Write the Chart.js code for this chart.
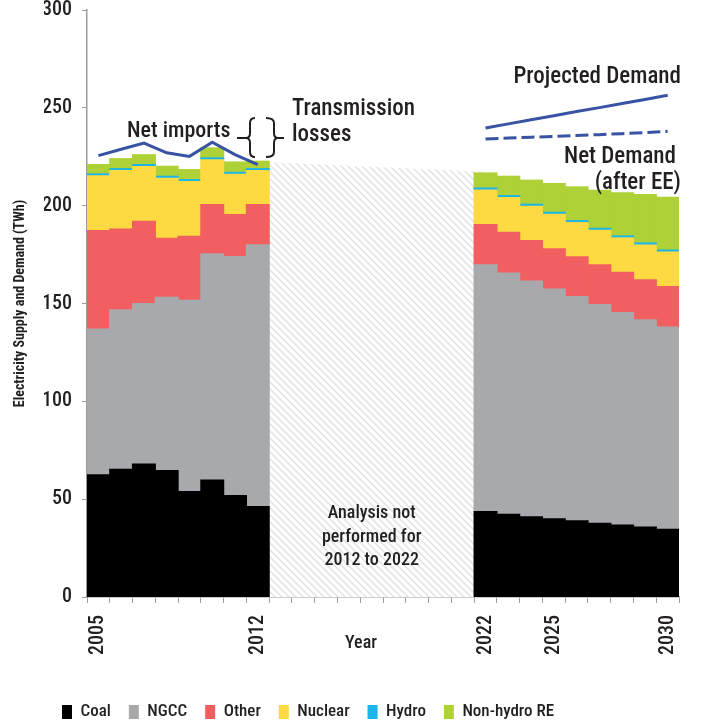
<!DOCTYPE html>
<html>
<head>
<meta charset="utf-8">
<script src="https://cdn.jsdelivr.net/npm/chart.js@4.4.1/dist/chart.umd.min.js"></script>
<style>
html,body{margin:0;padding:0;background:#fff;}
#wrap{width:704px;height:723px;position:relative;}
</style>
</head>
<body>
<div id="wrap"><canvas id="c" width="704" height="723"></canvas></div>
<script>
// ---------------- data ----------------
const years = [2005,2006,2007,2008,2009,2010,2011,2012,2013,2014,2015,2016,2017,2018,2019,2020,2021,2022,2023,2024,2025,2026,2027,2028,2029,2030];
const shownYears = [2005, 2012, 2022, 2025, 2030];
const yTickValues = [0, 50, 100, 150, 200, 250, 300];

const coalHist    = [62.4, 65.3, 67.9, 64.6, 53.9, 59.8, 51.8, 46.2];
const coalProj    = [43.6, 42.3, 40.9, 39.9, 38.9, 37.7, 36.7, 35.7, 34.6];
const ngccHist    = [74.5, 81.5, 82.0, 88.5, 97.7, 115.6, 122.2, 133.8];
const ngccProj    = [126.2, 123.3, 120.6, 117.5, 114.6, 111.7, 108.7, 106.0, 103.4];
const otherHist   = [50.3, 41.2, 42.1, 30.2, 32.7, 25.1, 21.4, 20.5];
const otherProj   = [20.5, 20.7, 20.6, 20.5, 20.3, 20.4, 20.5, 20.4, 20.7];
const nuclearHist = [28.0, 29.9, 28.0, 30.7, 28.0, 22.9, 20.6, 17.4];
const nuclearProj = [17.7, 17.8, 17.6, 17.7, 17.5, 17.6, 17.6, 17.8, 17.6];
const hydroHist   = [1.0, 1.0, 1.0, 1.0, 1.0, 1.0, 1.0, 1.0];
const hydroProj   = [1.0, 1.0, 1.0, 1.0, 1.0, 1.0, 1.0, 1.0, 1.0];
const reHist      = [4.8, 5.1, 5.0, 5.1, 5.1, 5.1, 5.3, 3.8];
const reProj      = [7.7, 9.9, 12.3, 14.7, 17.3, 19.4, 22.0, 24.7, 27.0];

const demandHist    = [225.6, 228.8, 232.0, 227.0, 225.2, 232.4, 226.1, 221.0];
const demandProj    = [239.7, 241.8, 243.9, 246.0, 248.1, 250.1, 252.2, 254.3, 256.4];
const netDemandProj = [234.1, 234.6, 235.0, 235.4, 235.9, 236.3, 236.8, 237.3, 238.0];
const notAnalysedEnds = [222.4, 217.3]; // totals at 2012 and 2022 bounding the hatched gap

// ---------------- helpers ----------------
const gapLen = years.length - coalHist.length - coalProj.length;
const gapNulls = new Array(gapLen).fill(null);
const projNulls = new Array(coalProj.length).fill(null);
const histNulls = new Array(coalHist.length).fill(null);
const full = (h, p) => [...h, ...gapNulls, ...p];
const histOnly = (h) => [...h, ...gapNulls, ...projNulls];
const projOnly = (p) => [...histNulls, ...gapNulls, ...p];
const hatchData = years.map(y => y === 2012 ? notAnalysedEnds[0] : (y === 2022 ? notAnalysedEnds[1] : null));

// pick a condensed font if one is installed
function hasFont(name) {
  const c = document.createElement('canvas').getContext('2d');
  const s = 'abcdefghijklmnopqrstuvwxyz ABCDEFGHIJKLM 0123456789';
  c.font = '40px monospace';
  const a = c.measureText(s).width;
  c.font = "40px '" + name + "', monospace";
  const b = c.measureText(s).width;
  return Math.abs(a - b) > 0.5;
}
const fontCandidates = ['Roboto Condensed', 'Liberation Sans Narrow', 'Noto Sans Condensed', 'DejaVu Sans Condensed', 'Open Sans Condensed', 'Noto Sans SemiCondensed', 'Roboto'];
const chosen = fontCandidates.find(hasFont) || 'Roboto';
const FONT = "'" + chosen + "', Roboto, sans-serif";
const W = '500';
const TXT = '#231f20';
const AX = '#9b9b9b';
const BLUE = '#3953a4';
const LEG_PAD = 18;

// hatch pattern
function makePattern() {
  const p = document.createElement('canvas');
  p.width = 7; p.height = 7;
  const g = p.getContext('2d');
  g.fillStyle = '#ffffff';
  g.fillRect(0, 0, 7, 7);
  g.strokeStyle = '#e2e2e2';
  g.lineWidth = 1.5;
  g.beginPath();
  g.moveTo(-1, -1); g.lineTo(8, 8);
  g.moveTo(-1, 6); g.lineTo(1, 8);
  g.moveTo(6, -1); g.lineTo(8, 1);
  g.stroke();
  return g.createPattern(p, 'repeat');
}
const pattern = makePattern();

const barDs = (label, h, p, color) => ({
  type: 'bar', label, data: full(h, p), backgroundColor: color, borderWidth: 0, inflateAmount: 0.6,
  stack: 'gen', barPercentage: 1.0, categoryPercentage: 1.0, order: 5
});

const annotations = {
  id: 'annotations',
  afterDatasetsDraw(chart) {
    const ctx = chart.ctx;
    const xs = chart.scales.x;
    ctx.save();
    ctx.fillStyle = TXT;
    ctx.textBaseline = 'alphabetic';
    // gap note
    const cx = (xs.getPixelForValue(years.indexOf(2012)) + xs.getPixelForValue(years.indexOf(2022))) / 2;
    ctx.font = W + ' 18px ' + FONT;
    ctx.textAlign = 'center';
    ctx.fillText('Analysis not', cx, 518);
    ctx.fillText('performed for', cx, 542);
    ctx.fillText('2012 to 2022', cx, 565);
    // year title
    ctx.fillText('Year', 361, 648);
    // labels
    ctx.font = W + ' 22px ' + FONT;
    ctx.textAlign = 'left';
    ctx.fillText('Net imports', 127, 137);
    ctx.font = W + ' 23px ' + FONT;
    ctx.fillText('Transmission', 292, 115);
    ctx.fillText('losses', 292, 141);
    ctx.textAlign = 'right';
    ctx.fillText('Projected Demand', 681, 83);
    ctx.fillText('Net Demand', 676, 163);
    ctx.fillText('(after EE)', 681, 189);
    // braces
    ctx.strokeStyle = TXT;
    ctx.lineWidth = 2;
    ctx.beginPath();
    ctx.moveTo(255, 118); ctx.quadraticCurveTo(250, 118, 250, 123); ctx.lineTo(250, 133);
    ctx.quadraticCurveTo(250, 138, 246, 138); ctx.quadraticCurveTo(250, 138, 250, 143);
    ctx.lineTo(250, 152); ctx.quadraticCurveTo(250, 157, 255, 157);
    ctx.moveTo(237, 138); ctx.lineTo(246, 138);
    ctx.moveTo(266, 118); ctx.quadraticCurveTo(274, 118, 274, 123); ctx.lineTo(274, 133);
    ctx.quadraticCurveTo(274, 138, 278, 138); ctx.quadraticCurveTo(274, 138, 274, 143);
    ctx.lineTo(274, 152); ctx.quadraticCurveTo(274, 157, 266, 157);
    ctx.moveTo(278, 138); ctx.lineTo(284, 138);
    ctx.stroke();
    ctx.restore();
  }
};

new Chart(document.getElementById('c'), {
  data: {
    labels: years.map(String),
    datasets: [
      barDs('Coal', coalHist, coalProj, '#000000'),
      barDs('NGCC', ngccHist, ngccProj, '#a7a9ac'),
      barDs('Other', otherHist, otherProj, '#f15f60'),
      barDs('Nuclear', nuclearHist, nuclearProj, '#fdd942'),
      barDs('Hydro', hydroHist, hydroProj, '#1cb5ea'),
      barDs('Non-hydro RE', reHist, reProj, '#add136'),
      { type: 'line', label: 'Not analysed', data: hatchData, spanGaps: true, fill: 'origin',
        backgroundColor: pattern, borderWidth: 0, pointRadius: 0, stack: 'hatch', order: 10 },
      { type: 'line', label: 'Demand incl. net imports', data: histOnly(demandHist), borderColor: BLUE,
        borderWidth: 3, pointRadius: 0, fill: false, stack: 'd1', order: 1 },
      { type: 'line', label: 'Projected Demand', data: projOnly(demandProj), borderColor: BLUE,
        borderWidth: 3, pointRadius: 0, fill: false, stack: 'd2', order: 1 },
      { type: 'line', label: 'Net Demand (after EE)', data: projOnly(netDemandProj), borderColor: BLUE,
        borderWidth: 3, borderDash: [13, 5], pointRadius: 0, fill: false, stack: 'd3', order: 1 }
    ]
  },
  options: {
    responsive: false,
    animation: false,
    events: [],
    layout: { padding: { left: 62 - LEG_PAD, right: 16, top: 10, bottom: -7.5 } },
    plugins: {
      tooltip: { enabled: false },
      legend: {
        position: 'bottom',
        align: 'start',
        labels: {
          filter: (item) => item.datasetIndex < 6,
          boxWidth: 10, boxHeight: 14, padding: LEG_PAD,
          color: TXT, font: { family: FONT, size: 17, weight: W }
        }
      }
    },
    scales: {
      x: {
        stacked: true,
        offset: true,
        grid: { display: true, drawOnChartArea: false, drawTicks: true, tickLength: 6, color: AX, offset: true },
        border: { display: true, color: AX, width: 1.5 },
        ticks: {
          autoSkip: false, maxRotation: 90, minRotation: 90, padding: 12,
          color: TXT, font: { family: FONT, size: 20, weight: W },
          callback: function (v, i) { return shownYears.includes(years[i]) ? String(years[i]) : ''; }
        },
        afterFit: (s) => { s.height = (730.5 - 27 - LEG_PAD) - 597; }
      },
      y: {
        stacked: true,
        min: 0, max: 300,
        afterBuildTicks: (s) => { s.ticks = yTickValues.map(v => ({ value: v })); },
        grid: { display: true, drawOnChartArea: false, drawTicks: true, tickLength: 5, color: AX },
        border: { display: true, color: AX, width: 1.5 },
        ticks: { padding: 10, color: TXT, font: { family: FONT, size: 20, weight: W } },
        title: { display: true, text: 'Electricity Supply and Demand (TWh)', color: TXT,
                 font: { family: FONT, size: 14, weight: 'bold' }, padding: { top: -(62 - LEG_PAD) + 12, bottom: 0 } },
        afterFit: (s) => { s.width = 87 - (62 - LEG_PAD); s.paddingTop = 0; s.paddingBottom = 0; }
      }
    }
  },
  plugins: [annotations]
});
</script>
</body>
</html>
